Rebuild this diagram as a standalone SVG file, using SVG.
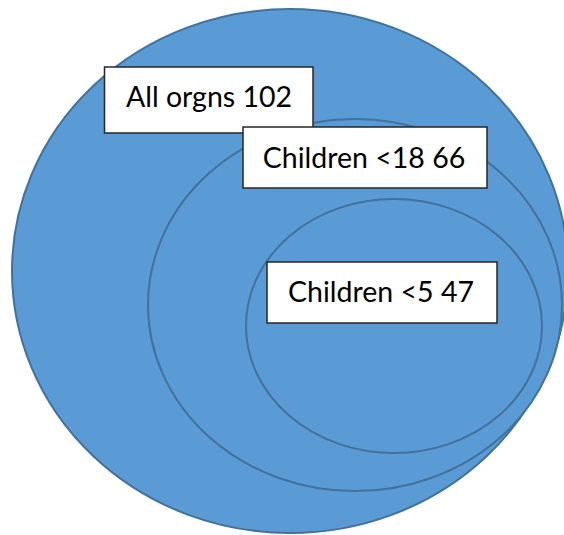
<svg xmlns="http://www.w3.org/2000/svg" width="564" height="535" viewBox="0 0 564 535">
<style>
.circ{fill:#5B9BD5;stroke:#41719C;stroke-width:2}
.box{fill:#FFFFFF;stroke:#262626;stroke-width:1.5}
.lbl{font-family:Lato,"Open Sans","Liberation Sans",sans-serif;font-size:28.5px;fill:#000;text-anchor:middle}
</style>
<rect x="0" y="0" width="564" height="535" fill="#FFFFFF"/>
<g id="all-orgns-set">
<ellipse class="circ" cx="290" cy="271" rx="278" ry="262"/>
</g>
<g id="children-18-set">
<ellipse class="circ" cx="355" cy="305" rx="207" ry="186"/>
</g>
<g id="children-5-set">
<ellipse class="circ" cx="394" cy="326" rx="148" ry="127"/>
</g>
<g id="connectors"></g>
<g id="label-all-orgns">
<rect class="box" x="104.5" y="67" width="208.5" height="66"/>
<text class="lbl" x="209" y="107">All orgns 102</text>
</g>
<g id="label-children-18">
<rect class="box" x="243" y="127" width="244" height="61"/>
<text class="lbl" x="364" y="168">Children &lt;18 66</text>
</g>
<g id="label-children-5">
<rect class="box" x="267" y="262" width="230" height="61"/>
<text class="lbl" x="381" y="302">Children &lt;5 47</text>
</g>
</svg>
